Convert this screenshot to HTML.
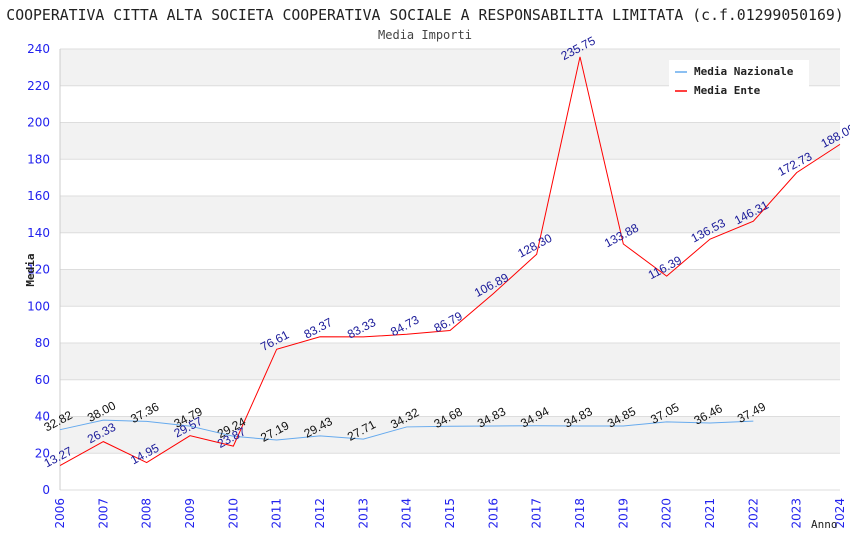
<!DOCTYPE html>
<html><head><meta charset="utf-8"><style>
body{margin:0;background:#fff;}
svg{display:block;}
</style></head><body>
<svg id="chart" width="850" height="550" xmlns="http://www.w3.org/2000/svg">
<text x="425" y="20" text-anchor="middle" font-family="DejaVu Sans Mono, monospace" font-size="14.8" fill="#222">COOPERATIVA CITTA ALTA SOCIETA COOPERATIVA SOCIALE A RESPONSABILITA LIMITATA (c.f.01299050169)</text>
<text x="425" y="39" text-anchor="middle" font-family="DejaVu Sans Mono, monospace" font-size="12" fill="#444">Media Importi</text>
<g id="bands"></g><g id="axes"></g><g id="series"></g><g id="labels"></g>
<text transform="translate(34,270) rotate(-90)" text-anchor="middle" font-family="DejaVu Sans Mono, monospace" font-size="11" font-weight="bold" fill="#222">Media</text>
<text x="811" y="528" font-family="DejaVu Sans Mono, monospace" font-size="11" fill="#222">Anno</text>
<g>
<rect x="669" y="60" width="140" height="40" fill="#fff"/>
<line x1="675" y1="72" x2="687" y2="72" stroke="#66aaee" stroke-width="1.5"/>
<text x="694" y="75" font-family="DejaVu Sans Mono, monospace" font-size="11" font-weight="bold" fill="#222">Media Nazionale</text>
<line x1="675" y1="91" x2="687" y2="91" stroke="red" stroke-width="1.5"/>
<text x="694" y="94" font-family="DejaVu Sans Mono, monospace" font-size="11" font-weight="bold" fill="#222">Media Ente</text>
</g>
</svg>
<script>
const years=[2006,2007,2008,2009,2010,2011,2012,2013,2014,2015,2016,2017,2018,2019,2020,2021,2022,2023,2024];
const nazionale=[32.82,38.00,37.36,34.79,29.24,27.19,29.43,27.71,34.32,34.68,34.83,34.94,34.83,34.85,37.05,36.46,37.49];
const ente=[13.27,26.33,14.95,29.57,23.87,76.61,83.37,83.33,84.73,86.79,106.89,128.30,235.75,133.88,116.39,136.53,146.31,172.73,188.09];
const yTicks=[0,20,40,60,80,100,120,140,160,180,200,220,240];
const NS="http://www.w3.org/2000/svg";
const X0=60,X1=840,Y0=490,Y1=49;
const x=y=>X0+(y-years[0])*(X1-X0)/(years[years.length-1]-years[0]);
const yy=v=>Y0-v*(Y0-Y1)/240;
function mk(t,a,p){const e=document.createElementNS(NS,t);for(const k in a)e.setAttribute(k,a[k]);p.appendChild(e);return e;}
const bands=document.getElementById('bands'),axes=document.getElementById('axes'),series=document.getElementById('series'),labels=document.getElementById('labels');
for(let i=0;i<yTicks.length-1;i++){
  if(i%2===1){const r=mk('rect',{x:X0,y:yy(yTicks[i+1]),width:X1-X0,height:yy(yTicks[i])-yy(yTicks[i+1]),fill:'#f2f2f2'},bands);
  
  }
}
yTicks.forEach(t=>{
  const l=mk('line',{x1:X0,x2:X1,y1:yy(t),y2:yy(t),stroke:'#ddd'},axes);
  
  
  const tx=mk('text',{x:50,y:yy(t)+4,'text-anchor':'end','font-family':'DejaVu Sans, sans-serif','font-size':12,fill:'#2222ee'},axes);
  tx.textContent=t;
  
  
});
mk('line',{x1:X0,x2:X0,y1:Y1,y2:Y0,stroke:'#ccc'},axes);
years.forEach(yr=>{
  const tx=mk('text',{transform:`translate(${x(yr)+4},${Y0+8}) rotate(-90)`,'text-anchor':'end','font-family':'DejaVu Sans, sans-serif','font-size':12,fill:'#2222ee'},axes);
  tx.textContent=yr;
  
  
});
function draw(vals,color,lblColor,name){
  const pts=vals.map((v,i)=>x(years[i])+','+yy(v)).join(' ');
  const pl=mk('polyline',{points:pts,fill:'none',stroke:color,'stroke-width':1},series);
  
  
  vals.forEach((v,i)=>{
    const t=mk('text',{transform:`translate(${x(years[i])},${yy(v)-5}) rotate(-28)`,'text-anchor':'middle','font-family':'Liberation Sans, sans-serif','font-size':12,fill:lblColor},labels);
    t.textContent=v.toFixed(2);
    
    
  });
}
draw(nazionale,'#66aaee','#111','media-nazionale');
draw(ente,'red','#1a1a99','media-ente');
</script>
</body></html>
